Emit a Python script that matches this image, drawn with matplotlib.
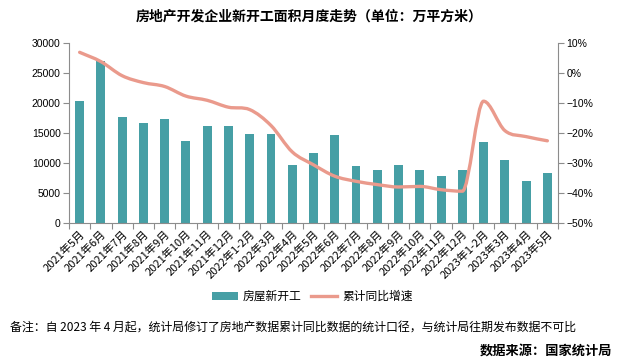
import numpy as np
import matplotlib.pyplot as plt
from matplotlib.path import Path
from matplotlib.patches import PathPatch
from matplotlib.lines import Line2D
from matplotlib.patches import Patch

plt.rcParams['font.family'] = ['Noto Sans CJK SC', 'DejaVu Sans']

# ---- data ----
months = ["2021年5月", "2021年6月", "2021年7月", "2021年8月", "2021年9月",
          "2021年10月", "2021年11月", "2021年12月", "2022年1-2月", "2022年3月",
          "2022年4月", "2022年5月", "2022年6月", "2022年7月", "2022年8月",
          "2022年9月", "2022年10月", "2022年11月", "2022年12月", "2023年1-2月",
          "2023年3月", "2023年4月", "2023年5月"]
new_starts = [20400, 27000, 17600, 16600, 17400, 13700, 16100, 16100, 14900,
              14900, 9700, 11700, 14700, 9500, 8900, 9700, 8900, 7900, 8900,
              13500, 10500, 7000, 8400]
cum_growth = [6.9, 3.8, -0.9, -3.2, -4.5, -7.7, -9.1, -11.4, -12.2, -17.5,
              -26.3, -30.6, -34.4, -36.1, -37.2, -38.0, -37.8, -38.9, -39.4,
              -9.4, -19.2, -21.2, -22.6]
pct_ticks = [-50, -40, -30, -20, -10, 0, 10]

BAR_COLOR = "#469fa5"
LINE_COLOR = "#ea9a8c"
AXIS_COLOR = "#8c8c8c"


def smooth_path(xs, ys):
    # bezier segments like a spreadsheet "smoothed line";
    # flat tangent at local peaks/troughs so the curve does not overshoot
    n = len(xs)
    slopes = []
    for i in range(n):
        lo, hi = max(i - 1, 0), min(i + 1, n - 1)
        if 0 < i < n - 1 and (ys[i] - ys[lo]) * (ys[hi] - ys[i]) <= 0:
            slopes.append(0.0)
        else:
            slopes.append((ys[hi] - ys[lo]) / (xs[hi] - xs[lo]))
    verts = [(xs[0], ys[0])]
    codes = [Path.MOVETO]
    for i in range(n - 1):
        dx = xs[i + 1] - xs[i]
        c1 = (xs[i] + dx / 3, ys[i] + slopes[i] * dx / 3)
        c2 = (xs[i + 1] - dx / 3, ys[i + 1] - slopes[i + 1] * dx / 3)
        verts += [c1, c2, (xs[i + 1], ys[i + 1])]
        codes += [Path.CURVE4] * 3
    return Path(verts, codes)


fig = plt.figure(figsize=(6.25, 3.63), dpi=100)
ax = fig.add_axes([0.1104, 0.3857, 0.7824, 0.4958])
x = np.arange(len(months))

ax.bar(x, new_starts, width=0.42, color=BAR_COLOR, zorder=2)
ax.set_xlim(-0.5, len(months) - 0.5)
ax.set_ylim(0, 30000)
ax.set_yticks(np.arange(0, 30001, 5000))
ax.tick_params(axis='y', labelsize=7.5, direction='out', length=4, color=AXIS_COLOR, pad=2)
for lab in ax.get_yticklabels():
    lab.set_family('Liberation Sans')

# category boundaries as x ticks, labels centred on bars
ax.set_xticks(np.arange(-0.5, len(months)), minor=False)
ax.set_xticklabels([])
ax.set_xticks(x, minor=True)
ax.set_xticklabels(months, minor=True, rotation=45, ha='right',
                   rotation_mode='anchor', fontsize=8)
ax.tick_params(axis='x', which='major', direction='out', length=4, color=AXIS_COLOR)
ax.tick_params(axis='x', which='minor', length=0, pad=4)

for side in ["top", "right"]:
    ax.spines[side].set_visible(False)
for side in ["left", "bottom"]:
    ax.spines[side].set_color(AXIS_COLOR)

ax2 = ax.twinx()
ax2.set_ylim(-50, 10)
ax2.set_yticks(pct_ticks)
ax2.set_yticklabels([f"{v}%".replace("-", "\u2212") for v in pct_ticks],
                    family='Liberation Sans')
ax2.tick_params(axis='y', labelsize=7.5, direction='out', length=4, color=AXIS_COLOR, pad=2)
for side in ["top", "left", "bottom"]:
    ax2.spines[side].set_visible(False)
ax2.spines["right"].set_color(AXIS_COLOR)

curve = PathPatch(smooth_path(list(x), cum_growth), facecolor='none',
                  edgecolor=LINE_COLOR, lw=2.4, capstyle='round', zorder=3)
ax2.add_patch(curve)

fig.text(0.495, 0.955, "房地产开发企业新开工面积月度走势（单位：万平方米）",
         ha='center', va='center', fontsize=10, fontweight='bold')

handles = [Patch(facecolor=BAR_COLOR, label="房屋新开工"),
           Line2D([0], [0], color=LINE_COLOR, lw=2.4, label="累计同比增速")]
fig.legend(handles=handles, loc='center', bbox_to_anchor=(0.5, 0.183), ncol=2,
           frameon=False, fontsize=8.5, handlelength=2.2, columnspacing=0.8,
           handletextpad=0.4)

fig.text(0.016, 0.097, "备注：自 2023 年 4 月起，统计局修订了房地产数据累计同比数据的统计口径，与统计局往期发布数据不可比",
         ha='left', va='center', fontsize=8.6)
fig.text(0.98, 0.035, "数据来源：国家统计局", ha='right', va='center',
         fontsize=9.5, fontweight='bold')

fig.savefig("out.png", dpi=100)
